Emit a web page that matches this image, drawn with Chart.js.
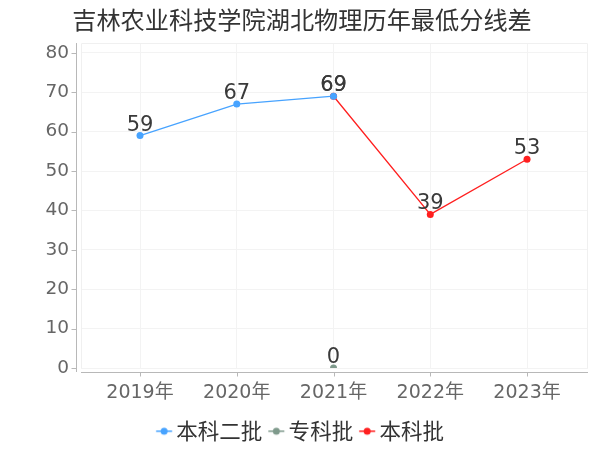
<!DOCTYPE html>
<html><head><meta charset="utf-8">
<script src="https://cdn.jsdelivr.net/npm/chart.js@4"></script>
<style>html,body{margin:0;padding:0;background:#fff}</style>
</head><body>
<canvas id="c" width="600" height="450" style="width:600px;height:450px;display:block"></canvas>
<script>
const chartTitle = '吉林农业科技学院湖北物理历年最低分线差';
const years = ['2019年', '2020年', '2021年', '2022年', '2023年'];
const seriesNames = ['本科二批', '专科批', '本科批'];
const benke2 = [59, 67, 69, null, null];
const zhuanke = [null, null, 0, null, null];
const benke = [null, null, 69, 39, 53];
const yTickValues = [0, 10, 20, 30, 40, 50, 60, 70, 80];
const seriesColors = ['#47a3ff', '#7f9a8c', '#ff1f1f'];

const FONT = '"DejaVu Sans", "Noto Sans CJK SC", sans-serif';
const CJK = '"Noto Sans CJK SC", "DejaVu Sans", sans-serif';

function toPoints(arr) {
  return arr.map((v, i) => v === null ? null : {x: i, y: v}).filter(p => p);
}

function makeIcon(color) {
  const c = document.createElement('canvas');
  c.width = 24; c.height = 12;
  const g = c.getContext('2d');
  g.strokeStyle = color; g.lineWidth = 1.5;
  g.beginPath(); g.moveTo(5.25, 6); g.lineTo(21.25, 6); g.stroke();
  g.fillStyle = color;
  g.beginPath(); g.arc(13.25, 6, 3.5, 0, Math.PI * 2); g.fill();
  return c;
}

const allSeries = [benke2, zhuanke, benke];
const datasets = allSeries.map((arr, i) => ({
  label: seriesNames[i],
  data: toPoints(arr),
  borderColor: seriesColors[i],
  backgroundColor: seriesColors[i],
  borderWidth: 1.3,
  pointRadius: 3.5,
  pointHoverRadius: 3.5,
  pointBorderWidth: 0,
  tension: 0,
  showLine: true
}));

const axisPlugin = {
  id: 'axisPlugin',
  beforeDatasetsDraw(chart) {
    const ctx = chart.ctx, a = chart.chartArea;
    ctx.save();
    ctx.strokeStyle = '#f0f0f0';
    ctx.lineWidth = 1;
    ctx.beginPath();
    ctx.moveTo(a.left + 0.5, a.bottom); ctx.lineTo(a.left + 0.5, a.top + 0.5);
    ctx.lineTo(a.right - 0.5, a.top + 0.5); ctx.lineTo(a.right - 0.5, a.bottom);
    ctx.stroke();
    ctx.restore();
  },
  afterDraw(chart) {
    const ctx = chart.ctx, a = chart.chartArea;
    const xs = chart.scales.x, ys = chart.scales.y;
    ctx.save();
    ctx.strokeStyle = '#b8b8b8';
    ctx.lineWidth = 1;
    const ax = a.left - 4.5;
    ctx.beginPath(); ctx.moveTo(ax, a.top); ctx.lineTo(ax, a.bottom + 4); ctx.stroke();
    ys.ticks.forEach(t => {
      const y = Math.round(ys.getPixelForValue(t.value)) + 0.5;
      ctx.beginPath(); ctx.moveTo(ax - 5, y); ctx.lineTo(ax, y); ctx.stroke();
    });
    const ay = a.bottom + 4.5;
    ctx.beginPath(); ctx.moveTo(a.left, ay); ctx.lineTo(a.right, ay); ctx.stroke();
    xs.ticks.forEach(t => {
      const x = Math.round(xs.getPixelForValue(t.value)) + 0.5;
      ctx.beginPath(); ctx.moveTo(x, ay); ctx.lineTo(x, ay + 4); ctx.stroke();
    });
    ctx.restore();
  }
};

const labelPlugin = {
  id: 'labelPlugin',
  afterDatasetsDraw(chart) {
    const ctx = chart.ctx;
    ctx.save();
    ctx.font = '21px ' + FONT;
    ctx.fillStyle = '#3a3a3a';
    ctx.textAlign = 'center';
    ctx.textBaseline = 'alphabetic';
    chart.data.datasets.forEach((ds, di) => {
      const meta = chart.getDatasetMeta(di);
      meta.data.forEach((el, i) => {
        ctx.fillText(String(ds.data[i].y), el.x, el.y - 5);
      });
    });
    ctx.restore();
  }
};

new Chart(document.getElementById('c'), {
  type: 'line',
  data: {datasets},
  plugins: [axisPlugin, labelPlugin],
  options: {
    responsive: false,
    animation: false,
    devicePixelRatio: 1,
    layout: {padding: {left: 16, right: 12, top: 0, bottom: -2}},
    plugins: {
      title: {
        display: true, text: chartTitle, color: '#333',
        font: {family: CJK, size: 24.2, weight: 'normal'},
        padding: {top: 5, bottom: 9}
      },
      legend: {
        position: 'bottom',
        labels: {
          usePointStyle: true,
          pointStyleWidth: 5.5,
          padding: 10,
          color: '#333',
          font: {family: CJK, size: 21.5},
          generateLabels(chart) {
            const items = Chart.defaults.plugins.legend.labels.generateLabels(chart);
            items.forEach((it, i) => { it.pointStyle = makeIcon(seriesColors[i]); });
            return items;
          }
        }
      },
      tooltip: {enabled: false}
    },
    scales: {
      x: {
        type: 'linear',
        min: -0.61, max: 4.63,
        afterBuildTicks(s) { s.ticks = years.map((_, i) => ({value: i})); },
        afterFit(s) { s.height = 42.5; },
        ticks: {
          callback: (v) => years[v],
          color: '#666', font: {family: FONT, size: 19},
          padding: 14, autoSkip: false, maxRotation: 0
        },
        grid: {color: '#f3f3f3', drawTicks: false},
        border: {display: false}
      },
      y: {
        min: 0, max: 82.5,
        afterBuildTicks(s) { s.ticks = yTickValues.map(v => ({value: v})); },
        afterFit(s) { s.width = 65; },
        ticks: {color: '#666', font: {family: FONT, size: 18.5}, padding: 12},
        grid: {color: '#f3f3f3', drawTicks: false},
        border: {display: false}
      }
    }
  }
});
</script>
</body></html>
